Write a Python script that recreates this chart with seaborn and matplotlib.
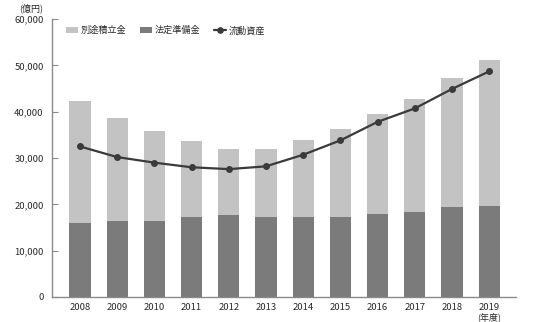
import matplotlib
matplotlib.use("Agg")
import matplotlib.pyplot as plt
import seaborn as sns
import pandas as pd
from matplotlib.patches import Patch
from matplotlib.lines import Line2D

years = ["2008", "2009", "2010", "2011", "2012", "2013", "2014", "2015", "2016", "2017", "2018", "2019"]
total_reserves = [42300, 38700, 35900, 33700, 32000, 32000, 33800, 36200, 39500, 42700, 47200, 51100]
legal_reserve = [15900, 16300, 16400, 17300, 17800, 17300, 17300, 17300, 17900, 18400, 19400, 19700]
current_assets = [32500, 30200, 29000, 28000, 27600, 28200, 30700, 33800, 37800, 40700, 44900, 48700]
yticks = [0, 10000, 20000, 30000, 40000, 50000, 60000]
ytick_labels = ["0", "10,000", "20,000", "30,000", "40,000", "50,000", "60,000"]
labels = ["別途積立金", "法定準備金", "流動資産"]

sns.set_theme(style="white")
plt.rcParams['font.family'] = ['Noto Sans CJK JP', 'DejaVu Sans']

df = pd.DataFrame({"year": years, "total": total_reserves, "legal": legal_reserve, "assets": current_assets})

fig = plt.figure(figsize=(5.4, 3.22), dpi=100)
ax = fig.add_axes([52/540, 1 - 297/322, (516-52)/540, (297-19)/322])

light = "#c3c3c3"
dark = "#7b7b7b"
linec = "#3a3a3a"

sns.barplot(data=df, x="year", y="total", color=light, saturation=1, width=0.57, ax=ax, edgecolor="none")
sns.barplot(data=df, x="year", y="legal", color=dark, saturation=1, width=0.57, ax=ax, edgecolor="none")
sns.pointplot(data=df, x="year", y="assets", color=linec, markers="o", markersize=3.8, linewidth=1.6, ax=ax)

ax.set_xlim(-0.75, 11.72)
ax.set_ylim(0, 60000)
ax.set_yticks(yticks)
ax.set_yticklabels(ytick_labels)
ax.set_xlabel("")
ax.set_ylabel("")

for s in ["top", "right"]:
    ax.spines[s].set_visible(False)
for s in ["left", "bottom"]:
    ax.spines[s].set_color("#8a8a8a")
    ax.spines[s].set_linewidth(1.0)

ax.tick_params(axis="y", direction="in", length=4, width=0.8, color="#8a8a8a", labelsize=6.8, pad=6, labelcolor="#2a2a2a", left=True)
ax.tick_params(axis="x", length=0, labelsize=6.8, pad=4, labelcolor="#2a2a2a")

fig.text(31/540, 1 - 8/322, "(億円)", ha="center", va="center", fontsize=6.5, color="#2a2a2a")
fig.text(489/540, 1 - 317/322, "(年度)", ha="center", va="center", fontsize=6.5, color="#2a2a2a")

handles = [Patch(facecolor=light, edgecolor="none"),
           Patch(facecolor=dark, edgecolor="none"),
           Line2D([0], [0], color=linec, marker="o", markersize=3.8, linewidth=1.6)]
leg = ax.legend(handles, labels, loc="upper left", bbox_to_anchor=(14/464, 1 - 7/278), ncol=3, frameon=False,
                fontsize=6.6, handlelength=1.3, handleheight=0.7, handletextpad=0.3, columnspacing=1.5,
                borderaxespad=0, borderpad=0)
for t in leg.get_texts():
    t.set_color("#2a2a2a")

fig.savefig("out.png", dpi=100)
